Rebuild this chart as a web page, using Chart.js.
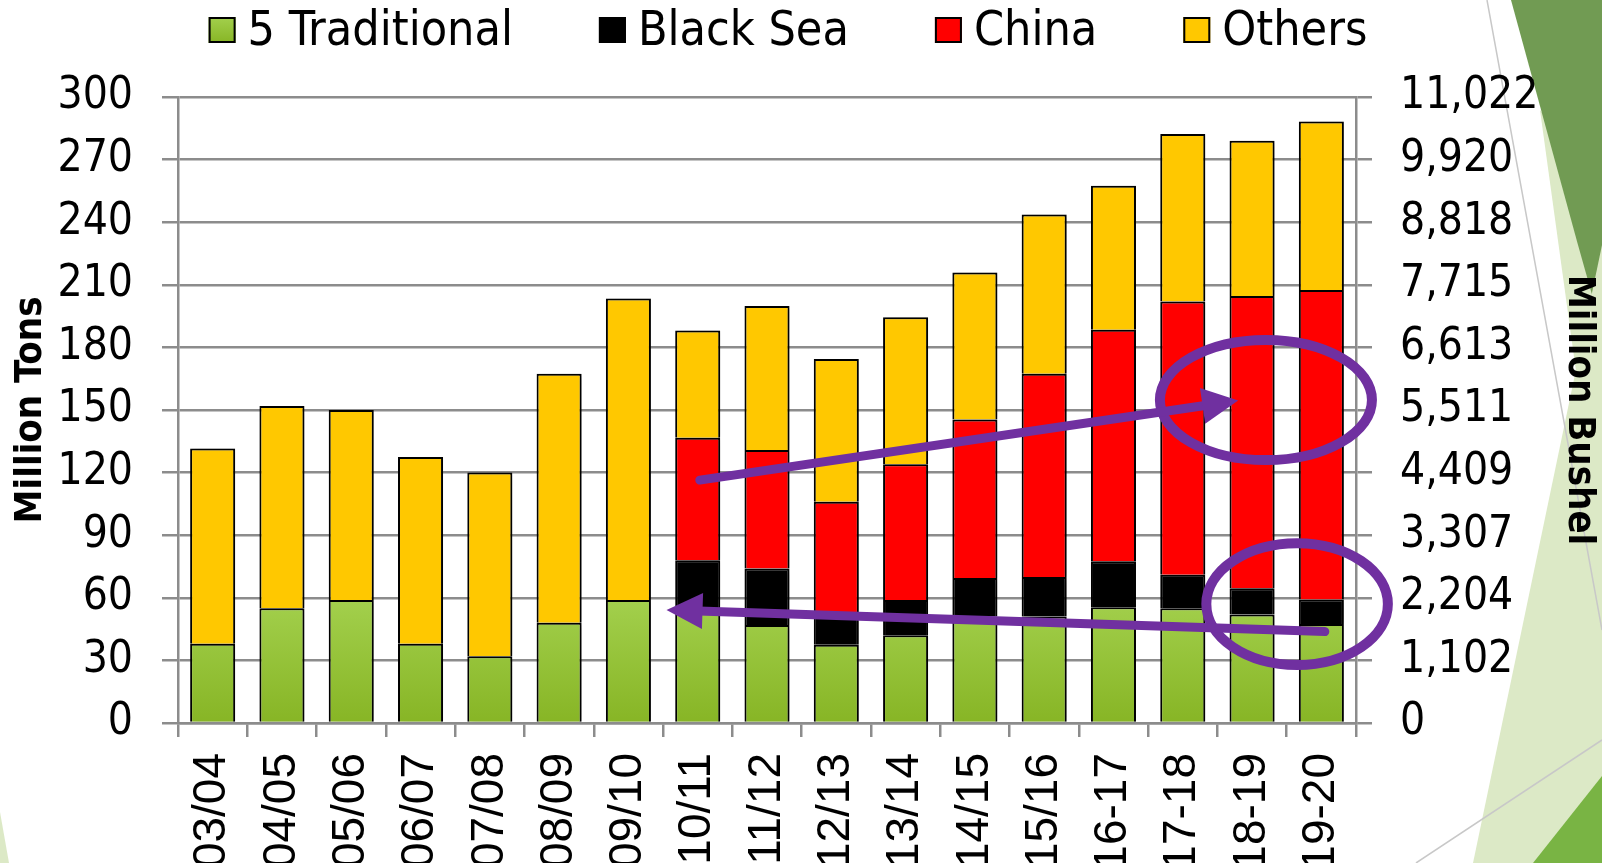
<!DOCTYPE html>
<html>
<head>
<meta charset="utf-8">
<title>Importações</title>
<script src="https://cdn.jsdelivr.net/npm/chart.js@4.4.1/dist/chart.umd.min.js"></script>
<style>
  html, body { margin: 0; padding: 0; background: #fff; }
  #wrap { position: relative; width: 1602px; height: 863px; }
</style>
</head>
<body>
<div id="wrap"><canvas id="grafico-barras"></canvas></div>
<script>
// dados (milhoes de toneladas)
const categorias = ['03/04', '04/05', '05/06', '06/07', '07/08', '08/09', '09/10', '10/11', '11/12',
    '12/13', '13/14', '14/15', '15/16', '16-17', '17-18', '18-19', '19-20'];
const tradicionais = [38, 55, 59, 38, 32, 48, 59, 55, 47, 37.5, 42, 51, 51, 55.5, 55, 52, 47.5];
const marNegro = [null, null, null, null, null, null, null, 23, 27, 13.5, 17, 18.5, 19, 22, 16, 12.6, 11.7];
const china = [null, null, null, null, null, null, null, 58.7, 56.8, 55, 65, 76, 97.4, 111, 131, 140, 148.3];
const outros = [93.6, 96.9, 91, 89.5, 88, 119.4, 144.4, 51.4, 69, 68.5, 70.5, 70.4, 76.3, 69, 80.3, 74.4, 80.8];
const ticksEsquerda = [0, 30, 60, 90, 120, 150, 180, 210, 240, 270, 300];
const ticksDireita = ['0', '1,102', '2,204', '3,307', '4,409', '5,511', '6,613', '7,715', '8,818', '9,920', '11,022'];

// anotacoes em roxo (em unidades do grafico: indice da categoria, valor)
const setas = [
    { de: [7.03, 116.4], para: [14.8, 154.5] },
    { de: [16.05, 43.8], para: [6.55, 54.2] }
];
const elipses = [
    { centro: [15.2, 154.8], rx: 1.53, ry: 28.8 },
    { centro: [15.65, 57], rx: 1.31, ry: 29.2 }
];

const cinza = '#8c8c8c';
const roxo = '#7030a0';
const fonteNum = '"DejaVu Sans Condensed", "DejaVu Sans", sans-serif';

function gradienteVerde(ctx, y0, y1) {
    const g = ctx.createLinearGradient(0, y0, 0, y1);
    g.addColorStop(0, '#a3d04d');
    g.addColorStop(1, '#87b525');
    return g;
}

const fundo = {
    id: 'fundo',
    beforeDraw(chart) {
        const ctx = chart.ctx, w = chart.width, h = chart.height;
        function poli(cor, pts) {
            ctx.fillStyle = cor;
            ctx.beginPath();
            ctx.moveTo(pts[0][0], pts[0][1]);
            for (let i = 1; i < pts.length; i++) ctx.lineTo(pts[i][0], pts[i][1]);
            ctx.closePath();
            ctx.fill();
        }
        ctx.save();
        ctx.fillStyle = '#fff';
        ctx.fillRect(0, 0, w, h);
        poli('#dce9c6', [[1540, 110], [w, 180], [w, 560]]);
        poli('#719b53', [[1511, 0], [w, 0], [w, 330], [1578, 245]]);
        poli('#dce9c6', [[w, 245], [w, h], [1473, h]]);
        poli('#79b444', [[w, 776], [w, h], [1533, h]]);
        poli('#dce9c6', [[0, 812], [9, h], [0, h]]);
        ctx.strokeStyle = '#c8c8c8';
        ctx.lineWidth = 1.5;
        ctx.beginPath();
        ctx.moveTo(1487, 0); ctx.lineTo(w, 630);
        ctx.moveTo(1416, h); ctx.lineTo(w, 740);
        ctx.stroke();
        ctx.restore();
    }
};

const sombra = {
    id: 'sombra',
    beforeDatasetsDraw(chart) {
        const ctx = chart.ctx;
        ctx.save();
        ctx.shadowColor = 'rgba(0,0,0,0.28)';
        ctx.shadowBlur = 5;
        ctx.shadowOffsetX = 3;
        ctx.shadowOffsetY = 1;
    },
    afterDatasetsDraw(chart) {
        chart.ctx.restore();
    }
};

function desenhaSeta(ctx, x1, y1, x2, y2) {
    const ang = Math.atan2(y2 - y1, x2 - x1);
    const comp = 36, meia = 18;
    const bx = x2 - comp * Math.cos(ang), by = y2 - comp * Math.sin(ang);
    ctx.beginPath();
    ctx.moveTo(x1, y1);
    ctx.lineTo(bx + 4 * Math.cos(ang), by + 4 * Math.sin(ang));
    ctx.stroke();
    ctx.beginPath();
    ctx.moveTo(x2, y2);
    ctx.lineTo(bx + meia * Math.sin(ang), by - meia * Math.cos(ang));
    ctx.lineTo(bx - meia * Math.sin(ang), by + meia * Math.cos(ang));
    ctx.closePath();
    ctx.fill();
}

const anotacoes = {
    id: 'anotacoes',
    afterDatasetsDraw(chart) {
        const ctx = chart.ctx, x = chart.scales.x, y = chart.scales.y;
        const larg = x.getPixelForValue(1) - x.getPixelForValue(0);
        ctx.save();
        ctx.strokeStyle = roxo;
        ctx.fillStyle = roxo;
        ctx.lineCap = 'round';
        ctx.lineWidth = 10;
        elipses.forEach(function(e) {
            const cx = x.getPixelForValue(e.centro[0]);
            const cy = y.getPixelForValue(e.centro[1]);
            const ry = y.getPixelForValue(0) - y.getPixelForValue(e.ry);
            ctx.beginPath();
            ctx.ellipse(cx, cy, e.rx * larg, ry, 0, 0, Math.PI * 2);
            ctx.stroke();
        });
        ctx.lineWidth = 9;
        setas.forEach(function(s) {
            desenhaSeta(ctx,
                x.getPixelForValue(s.de[0]), y.getPixelForValue(s.de[1]),
                x.getPixelForValue(s.para[0]), y.getPixelForValue(s.para[1]));
        });
        ctx.restore();
    }
};

const legenda = {
    id: 'legenda',
    afterDraw(chart) {
        const ctx = chart.ctx;
        const caixa = 27, gapTexto = 12, gapItem = 86, centro = 788;
        ctx.save();
        ctx.font = '48px ' + fonteNum;
        ctx.textBaseline = 'alphabetic';
        const itens = chart.data.datasets.map(function(ds) {
            return { texto: ds.label, cor: ds.corLegenda, w: ctx.measureText(ds.label).width };
        });
        let total = gapItem * (itens.length - 1);
        itens.forEach(function(it) { total += caixa + gapTexto + it.w; });
        let xi = centro - total / 2;
        itens.forEach(function(it) {
            ctx.fillStyle = it.cor === 'verde' ? gradienteVerde(ctx, 17, 43) : it.cor;
            ctx.fillRect(xi, 17, caixa, 26);
            ctx.lineWidth = 2;
            ctx.strokeStyle = '#000';
            ctx.strokeRect(xi + 1, 18, caixa - 2, 24);
            ctx.fillStyle = '#000';
            ctx.fillText(it.texto, xi + caixa + gapTexto, 45);
            xi += caixa + gapTexto + it.w + gapItem;
        });
        ctx.restore();
    }
};

const bordaBarra = { top: 2, left: 2, right: 2, bottom: 0 };

const ctx = document.getElementById('grafico-barras').getContext('2d');
const MyChart = new Chart(ctx, {
    type: 'bar',
    data: {
        labels: categorias,
        datasets: [{
            label: '5 Traditional',
            data: tradicionais,
            corLegenda: 'verde',
            backgroundColor: function(c) {
                const chart = c.chart;
                if (!chart.chartArea) return '#95c23a';
                const y = chart.scales.y;
                return gradienteVerde(chart.ctx, y.getPixelForValue(60), y.getPixelForValue(0));
            }
        }, {
            label: 'Black Sea',
            data: marNegro,
            corLegenda: '#000000',
            backgroundColor: '#000000'
        }, {
            label: 'China',
            data: china,
            corLegenda: '#ff0000',
            backgroundColor: '#ff0000'
        }, {
            label: 'Others',
            data: outros,
            corLegenda: '#ffc800',
            backgroundColor: '#ffc800'
        }]
    },
    options: {
        responsive: true,
        maintainAspectRatio: false,
        animation: false,
        layout: { padding: { top: 97, left: 0, right: 0, bottom: 0 } },
        datasets: {
            bar: {
                categoryPercentage: 1,
                barPercentage: 0.65,
                borderColor: '#000',
                borderWidth: bordaBarra,
                borderSkipped: false
            }
        },
        plugins: {
            legend: { display: false },
            tooltip: { enabled: false }
        },
        scales: {
            x: {
                stacked: true,
                offset: true,
                afterFit: function(s) { s.height = 140; },
                grid: {
                    offset: true,
                    drawOnChartArea: false,
                    color: cinza,
                    lineWidth: 2.5,
                    tickLength: 14
                },
                border: { color: cinza, width: 2.5 },
                ticks: {
                    autoSkip: false,
                    minRotation: 90,
                    maxRotation: 90,
                    padding: 16,
                    color: '#000',
                    font: { family: '"Liberation Sans", Arial, sans-serif', size: 46 }
                }
            },
            y: {
                stacked: true,
                position: 'left',
                min: 0,
                max: 300,
                afterFit: function(s) { s.width = 178; },
                afterBuildTicks: function(s) {
                    s.ticks = ticksEsquerda.map(function(v) { return { value: v }; });
                },
                grid: { color: cinza, lineWidth: 2.5, tickLength: 16 },
                border: { color: cinza, width: 2.5 },
                ticks: {
                    padding: 29,
                    color: '#000',
                    font: { family: fonteNum, size: 44 }
                },
                title: {
                    display: true,
                    text: 'Million Tons',
                    color: '#000',
                    padding: { top: 8, bottom: 0 },
                    font: { family: fonteNum, size: 38, weight: 'bold', lineHeight: 1.2 }
                }
            },
            y2: {
                position: 'right',
                min: 0,
                max: 300,
                afterFit: function(s) { s.width = 246; },
                afterBuildTicks: function(s) {
                    s.ticks = ticksEsquerda.map(function(v) { return { value: v }; });
                },
                grid: { drawOnChartArea: false, color: cinza, lineWidth: 2.5, tickLength: 16 },
                border: { color: cinza, width: 2.5 },
                ticks: {
                    padding: 28,
                    color: '#000',
                    font: { family: fonteNum, size: 44 },
                    callback: function(v, i) { return ticksDireita[i]; }
                },
                title: {
                    display: true,
                    text: 'Million Bushel',
                    color: '#000',
                    padding: { top: 0, bottom: 0 },
                    font: { family: fonteNum, size: 38, weight: 'bold', lineHeight: 1.2 }
                }
            }
        }
    },
    plugins: [fundo, sombra, anotacoes, legenda]
});
</script>
</body>
</html>
